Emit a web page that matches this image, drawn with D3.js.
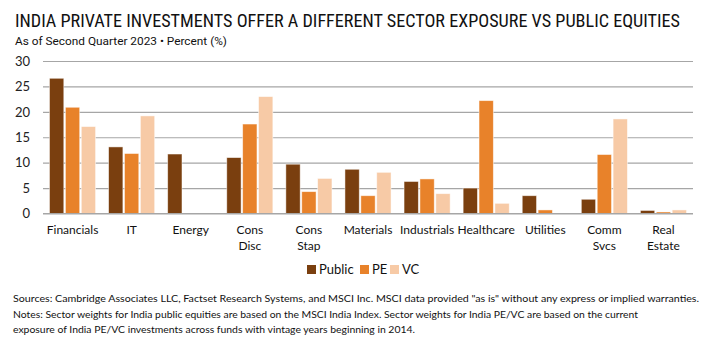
<!DOCTYPE html>
<html><head><meta charset="utf-8">
<script src="https://cdn.jsdelivr.net/npm/d3@7"></script>
<style>body{margin:0;background:#fff}svg{display:block}</style>
</head><body><svg id="c" width="710" height="356"></svg>
<script>
const categories = [["Financials"],["IT"],["Energy"],["Cons","Disc"],["Cons","Stap"],["Materials"],["Industrials"],["Healthcare"],["Utilities"],["Comm","Svcs"],["Real","Estate"]];
const seriesNames = ["Public","PE","VC"];
const publicVals = [26.6,13.1,11.7,11.0,9.7,8.7,6.3,5.0,3.5,2.8,0.6];
const peVals     = [20.9,11.8,0,17.6,4.3,3.5,6.8,22.2,0.7,11.6,0.3];
const vcVals     = [17.1,19.2,0.1,23.0,6.9,8.1,3.9,2.0,0,18.6,0.7];
const yTicks = [0,5,10,15,20,25,30];
const colors = ["#7A3F0F","#E8822A","#F7CAA6"];

const svg = d3.select("#c");
const font = "Lato, 'Open Sans', sans-serif";
const m = {l:43, r:17, t:61, b:143};
const W = 710, H = 356;
const x = d3.scaleBand().domain(d3.range(categories.length)).range([m.l, W-m.r]).paddingInner(0.22).paddingOuter(0.11);
const xs = d3.scaleBand().domain(d3.range(3)).range([0, x.bandwidth()]).paddingInner(0.1);
const y = d3.scaleLinear().domain([0,30]).range([213.5, 61]);

svg.append("text").attr("x",15).attr("y",27).attr("font-family","'Liberation Sans Narrow', 'Roboto Condensed', Roboto, sans-serif")
  .attr("font-size",18).attr("fill","#111").attr("textLength",665).attr("lengthAdjust","spacingAndGlyphs")
  .text("INDIA PRIVATE INVESTMENTS OFFER A DIFFERENT SECTOR EXPOSURE VS PUBLIC EQUITIES");
svg.append("text").attr("x",15).attr("y",45).attr("font-family","'Liberation Sans Narrow', Roboto, sans-serif")
  .attr("font-size",11).attr("fill","#111").attr("textLength",212).attr("lengthAdjust","spacingAndGlyphs")
  .text("As of Second Quarter 2023 \u2022 Percent (%)");

// grid
const yAxis = d3.axisLeft(y).tickValues(yTicks).tickSize(-(W-m.r-m.l)).tickFormat(d3.format("d"));
const ga = svg.append("g").attr("transform",`translate(${m.l},0)`).call(yAxis);
ga.select(".domain").remove();
ga.selectAll(".tick line").attr("stroke","#a6a6a6").attr("stroke-width",1.2);
ga.selectAll(".tick text").attr("font-family",font).attr("font-size",13).attr("fill","#222").attr("x",-13);

const data = [publicVals, peVals, vcVals];
data.forEach((vals, s) => {
  svg.append("g").selectAll("rect").data(vals).join("rect")
    .attr("x",(d,i)=>x(i)+xs(s)).attr("width",xs.bandwidth())
    .attr("y",d=>y(d)).attr("height",d=>y(0)-y(d))
    .attr("fill",colors[s]).attr("stroke","rgba(255,255,255,0.6)").attr("stroke-width",0.8);
});
// baseline
svg.append("line").attr("x1",m.l).attr("x2",W-m.r).attr("y1",y(0)).attr("y2",y(0)).attr("stroke","#a6a6a6").attr("stroke-width",1.2);

// x labels
const xl = svg.append("g");
categories.forEach((lines,i) => {
  const t = xl.append("text").attr("text-anchor","middle").attr("font-family",font).attr("font-size",12).attr("fill","#111");
  lines.forEach((ln,j)=> t.append("tspan").attr("x",x(i)+x.bandwidth()/2).attr("y",234+j*16).text(ln));
});

// legend
const lg = svg.append("g");
const lx = [307, 360, 390];
seriesNames.forEach((n,i)=>{
  lg.append("rect").attr("x",lx[i]).attr("y",265).attr("width",9).attr("height",9).attr("fill",colors[i]);
  lg.append("text").attr("x",lx[i]+12).attr("y",274).attr("font-family",font).attr("font-size",13).attr("fill","#111").text(n);
});

// footnotes
const notes = [
  ["Sources: Cambridge Associates LLC, Factset Research Systems, and MSCI Inc. MSCI data provided \"as is\" without any express or implied warranties.", 686],
  ["Notes: Sector weights for India public equities are based on the MSCI India Index. Sector weights for India PE/VC are based on the current", 625],
  ["exposure of India PE/VC investments across funds with vintage years beginning in 2014.", 402]
];
notes.forEach((n,i)=>{
  svg.append("text").attr("x",13).attr("y",302+i*15.5).attr("font-family",font).attr("font-size",9.5).attr("fill","#111")
    .attr("textLength",n[1]).attr("lengthAdjust","spacingAndGlyphs").text(n[0]);
});
</script></body></html>
